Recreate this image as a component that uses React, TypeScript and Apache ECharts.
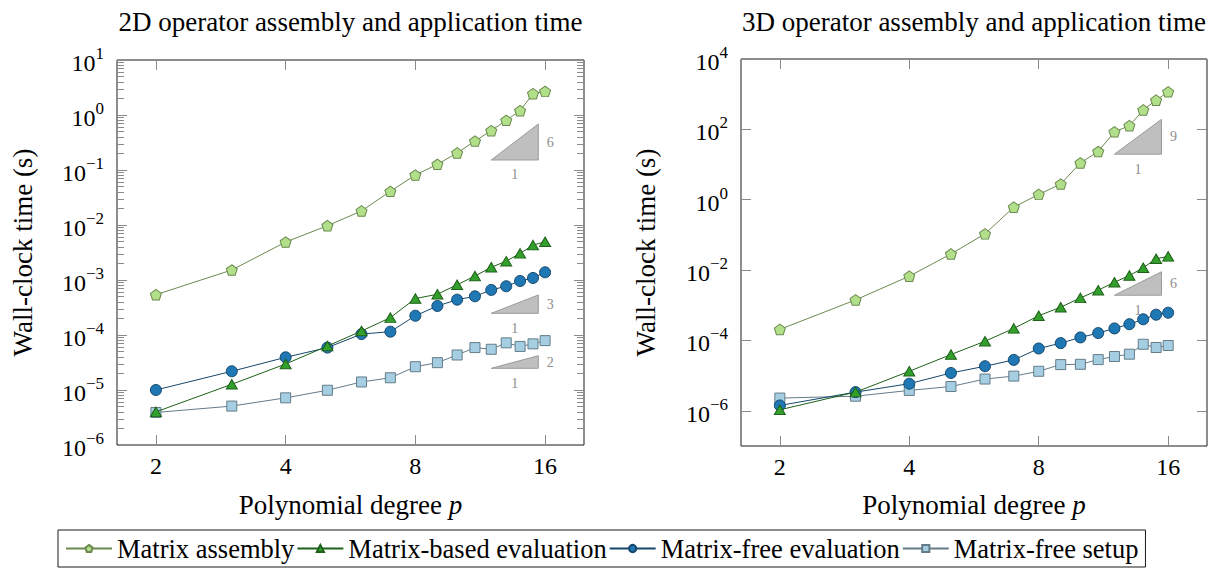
import React, { useEffect, useRef } from 'react';
import * as echarts from 'echarts';

// ---------- data ----------
const degrees = [2, 3, 4, 5, 6, 7, 8, 9, 10, 11, 12, 13, 14, 15, 16];

const assembly2D = [5.4e-4, 1.52e-3, 4.9e-3, 9.7e-3, 1.8e-2, 4.1e-2, 8.1e-2, 0.127, 0.204, 0.336, 0.519, 0.8, 1.2, 2.44, 2.69];
const matrixBased2D = [4.0e-6, 1.27e-5, 2.97e-5, 6.3e-5, 1.18e-4, 2.07e-4, 4.6e-4, 5.5e-4, 8.2e-4, 1.18e-3, 1.7e-3, 2.2e-3, 3.05e-3, 4.3e-3, 4.97e-3];
const matrixFree2D = [1.0e-5, 2.19e-5, 3.93e-5, 5.9e-5, 1.04e-4, 1.15e-4, 2.24e-4, 3.37e-4, 4.39e-4, 5.05e-4, 6.6e-4, 7.7e-4, 9.6e-4, 1.09e-3, 1.38e-3];
const setup2D = [3.9e-6, 5.1e-6, 7.2e-6, 9.9e-6, 1.4e-5, 1.67e-5, 2.65e-5, 3.14e-5, 4.33e-5, 5.9e-5, 5.5e-5, 7.2e-5, 6.2e-5, 6.9e-5, 7.9e-5];

const assembly3D = [2.06e-4, 1.42e-3, 6.7e-3, 2.87e-2, 0.107, 0.615, 1.42, 2.79, 11.1, 23.5, 85, 127, 356, 674, 1164];
const matrixBased3D = [1.07e-6, 3.4e-6, 1.33e-5, 3.98e-5, 9.5e-5, 2.2e-4, 5.05e-4, 8.8e-4, 1.62e-3, 2.68e-3, 4.5e-3, 7.0e-3, 1.16e-2, 2.1e-2, 2.45e-2];
const matrixFree3D = [1.42e-6, 3.4e-6, 5.9e-6, 1.19e-5, 1.85e-5, 2.8e-5, 5.9e-5, 8.4e-5, 1.22e-4, 1.62e-4, 2.2e-4, 2.9e-4, 4.0e-4, 5.4e-4, 6.15e-4];
const setup3D = [2.3e-6, 2.6e-6, 3.8e-6, 4.9e-6, 8.0e-6, 9.7e-6, 1.33e-5, 2.06e-5, 2.1e-5, 2.86e-5, 3.5e-5, 4.07e-5, 7.8e-5, 6.3e-5, 7.2e-5];

// slope triangles: [x0, x1, yBottom, yTop, slope]
const slopes2D = [
  [12, 15.43, 0.152, 0.686, 6],
  [12, 15.43, 2.48e-4, 5.34e-4, 3],
  [12, 15.43, 2.48e-5, 4.2e-5, 2],
];
const slopes3D = [
  [12, 15.44, 19.7, 193, 9],
  [12, 15.44, 1.93e-3, 8.94e-3, 6],
];

const xTicks = [2, 4, 8, 16];
const yMajor2D = [1e-6, 1e-5, 1e-4, 1e-3, 1e-2, 1e-1, 1, 10];
const yMinor2D: number[] = [];
for (let e = -6; e <= 0; e++) for (let m = 2; m <= 9; m++) yMinor2D.push(m * Math.pow(10, e));
const yMajor3D = [1e-6, 1e-4, 1e-2, 1, 100, 1e4];

const seriesNames = ['Matrix assembly', 'Matrix-based evaluation', 'Matrix-free evaluation', 'Matrix-free setup'];
const titles = ['2D operator assembly and application time', '3D operator assembly and application time'];

// ---------- style ----------
const FONT = '"Liberation Serif", "Times New Roman", serif';
const TICK = '#8a8a8a';
const SLOPE_TEXT = '#8c8c8c';
const PENTAGON = 'path://M0,-1 L0.951,-0.309 L0.588,0.809 L-0.588,0.809 L-0.951,-0.309 Z';

const styles = [
  { fill: '#b2df8a', line: '#6b8a4f', symbol: PENTAGON, size: [11, 10.5] },
  { fill: '#33a02c', line: '#1f601a', symbol: 'triangle', size: [11, 9.5] },
  { fill: '#1f78b4', line: '#14476b', symbol: 'circle', size: 11 },
  { fill: '#a6cee3', line: '#637c88', symbol: 'rect', size: 10 },
];

const X_MIN = Math.pow(2, 0.7);
const X_MAX = Math.pow(2, 4.3);

const grids = [
  { left: 117, top: 60, width: 467, height: 385 },
  { left: 741, top: 59, width: 466, height: 387 },
];

function supLabel(v: number) {
  const e = Math.round(Math.log10(v));
  const s = e < 0 ? '\u2212' + -e : String(e);
  return `{b|10}{s|${s}}`;
}

const labelRich = {
  b: { fontSize: 24, fontFamily: FONT, color: '#000', lineHeight: 30, verticalAlign: 'bottom' },
  s: { fontSize: 17, fontFamily: FONT, color: '#000', lineHeight: 17, verticalAlign: 'top' },
};

function xAxesFor(g: number) {
  const base = {
    type: 'log', logBase: 2, gridIndex: g, min: X_MIN, max: X_MAX,
    axisLine: { show: false }, splitLine: { show: false }, minorTick: { show: false },
  };
  return [
    {
      ...base, position: 'bottom',
      axisTick: { inside: true, length: 10, customValues: xTicks, lineStyle: { color: TICK } },
      axisLabel: {
        customValues: xTicks, margin: 9, fontSize: 24, fontFamily: FONT, color: '#000',
        formatter: (v: number) => String(Math.round(v)),
      },
    },
    {
      ...base, position: 'top',
      axisTick: { inside: true, length: 10, customValues: xTicks, lineStyle: { color: TICK } },
      axisLabel: { show: false },
    },
  ];
}

function yAxis(g: number, min: number, max: number, pos: string, ticks: number[], len: number, labels: boolean) {
  return {
    type: 'log', logBase: 10, gridIndex: g, min, max, position: pos,
    axisLine: { show: false }, splitLine: { show: false }, minorTick: { show: false },
    axisTick: { inside: true, length: len, customValues: ticks, lineStyle: { color: TICK } },
    axisLabel: labels
      ? { customValues: ticks, margin: 13, formatter: supLabel, rich: labelRich }
      : { show: false },
  };
}

function lineSeries(name: string, idx: number, values: number[], xi: number, yi: number) {
  const st = styles[idx];
  return {
    type: 'line', name, xAxisIndex: xi, yAxisIndex: yi,
    data: degrees.map((p, i) => [p, values[i]]),
    symbol: st.symbol, symbolSize: st.size,
    lineStyle: { color: st.line, width: 1 },
    itemStyle: { color: st.fill, borderColor: st.line, borderWidth: 1 },
    z: 10 - idx,
  };
}

function slopeSeries(data: number[][], xi: number, yi: number) {
  return {
    type: 'custom', xAxisIndex: xi, yAxisIndex: yi, z: 3, silent: true,
    itemStyle: { color: SLOPE_TEXT },
    dimensions: ['x0', 'x1', 'yb', 'yt', 's'],
    encode: { x: 0, y: 2 },
    data,
    renderItem: (params: any, api: any) => {
      const x0 = api.value(0), x1 = api.value(1), yb = api.value(2), yt = api.value(3), s = api.value(4);
      const bl = api.coord([x0, yb]);
      const br = api.coord([x1, yb]);
      const tr = api.coord([x1, yt]);
      const txt = { fill: SLOPE_TEXT, fontSize: 14, fontFamily: FONT, align: 'center', verticalAlign: 'middle' };
      return {
        type: 'group',
        children: [
          { type: 'polygon', shape: { points: [bl, br, tr] }, style: { fill: '#bfbfbf', stroke: '#9a9a9a', lineWidth: 1 } },
          { type: 'text', x: tr[0] + 12, y: (tr[1] + br[1]) / 2, style: { ...txt, text: String(s) } },
          { type: 'text', x: (bl[0] + br[0]) / 2, y: br[1] + 15, style: { ...txt, text: '1' } },
        ],
      };
    },
  };
}

export default function App() {
  const ref = useRef<HTMLDivElement>(null);
  useEffect(() => {
    if (!ref.current) return;
    const chart = echarts.init(ref.current, undefined, { renderer: 'svg' });
    const v2 = [assembly2D, matrixBased2D, matrixFree2D, setup2D];
    const v3 = [assembly3D, matrixBased3D, matrixFree3D, setup3D];
    const series: any[] = [];
    // draw setup first, then eval, based, assembly on top
    for (let i = 3; i >= 0; i--) series.push(lineSeries(seriesNames[i], i, v2[i], 0, 0));
    for (let i = 3; i >= 0; i--) series.push(lineSeries(seriesNames[i], i, v3[i], 2, 4));
    series.push(slopeSeries(slopes2D, 0, 0));
    series.push(slopeSeries(slopes3D, 2, 4));

    const option: any = {
      animation: false,
      backgroundColor: '#fff',
      grid: grids.map((g) => ({ ...g, show: true, borderColor: '#1a1a1a', borderWidth: 1, backgroundColor: 'transparent' })),
      xAxis: [...xAxesFor(0), ...xAxesFor(1)],
      yAxis: [
        yAxis(0, 1e-6, 10, 'left', yMajor2D, 10, true),
        yAxis(0, 1e-6, 10, 'left', yMinor2D, 7, false),
        yAxis(0, 1e-6, 10, 'right', yMajor2D, 10, false),
        yAxis(0, 1e-6, 10, 'right', yMinor2D, 7, false),
        yAxis(1, 1e-7, 1e4, 'left', yMajor3D, 10, true),
        yAxis(1, 1e-7, 1e4, 'right', yMajor3D, 10, false),
      ],
      legend: {
        data: seriesNames,
        left: 58, top: 530,
        orient: 'horizontal',
        padding: [5, 7],
        itemGap: 2,
        itemWidth: 46,
        itemHeight: 9,
        borderColor: '#1a1a1a', borderWidth: 1, borderRadius: 0,
        textStyle: { fontSize: 26.5, fontFamily: FONT, color: '#000', lineHeight: 27 },
        selectedMode: false,
      },
      graphic: [
        ...titles.map((t, i) => ({
          type: 'text', x: grids[i].left + grids[i].width / 2, y: 22,
          style: { text: t, fontSize: 27, fontFamily: FONT, fill: '#000', align: 'center', verticalAlign: 'middle' },
        })),
        ...[0, 1].map((i) => ({
          type: 'text', x: grids[i].left + grids[i].width / 2, y: 505,
          style: {
            text: 'Polynomial degree {i|p}', fontSize: 27, fontFamily: FONT, fill: '#000', align: 'center', verticalAlign: 'middle',
            rich: { i: { fontSize: 27, fontFamily: FONT, fontStyle: 'italic', fill: '#000' } },
          },
        })),
        ...[0, 1].map((i) => ({
          type: 'text', x: i === 0 ? 23 : 646, y: grids[i].top + grids[i].height / 2, rotation: Math.PI / 2,
          style: { text: 'Wall-clock time (s)', fontSize: 27, fontFamily: FONT, fill: '#000', align: 'center', verticalAlign: 'middle' },
        })),
      ],
      series,
    };
    chart.setOption(option);
    return () => chart.dispose();
  }, []);
  return <div ref={ref} style={{ position: 'fixed', left: 0, top: 0, width: 1214, height: 571 }} />;
}
